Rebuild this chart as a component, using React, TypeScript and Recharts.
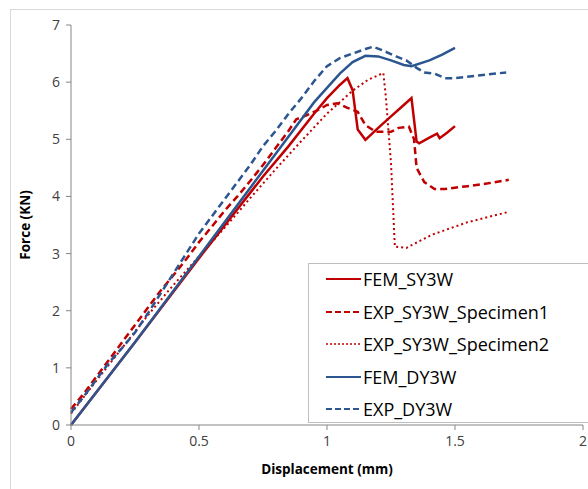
import { LineChart, Line, XAxis, YAxis, Label } from "recharts";

const xTicks = [0, 0.5, 1, 1.5, 2];
const yTicks = [0, 1, 2, 3, 4, 5, 6, 7];

const femSY3W = [
  [0, 0], [0.25, 1.45], [0.5, 2.92], [0.75, 4.35], [0.85, 4.88], [0.95, 5.45],
  [1.0, 5.72], [1.05, 5.95], [1.08, 6.07], [1.1, 5.86], [1.12, 5.17], [1.15, 4.99],
  [1.2, 5.2], [1.25, 5.4], [1.3, 5.6], [1.33, 5.72], [1.35, 4.96], [1.36, 4.93],
  [1.4, 5.03], [1.43, 5.1], [1.44, 5.02], [1.47, 5.12], [1.5, 5.23],
];

const expSY3W1 = [
  [0, 0.28], [0.05, 0.55], [0.1, 0.85], [0.15, 1.15], [0.2, 1.45], [0.25, 1.75],
  [0.3, 2.05], [0.35, 2.35], [0.4, 2.62], [0.45, 2.9], [0.5, 3.2], [0.55, 3.47],
  [0.6, 3.75], [0.65, 4.0], [0.7, 4.27], [0.75, 4.55], [0.8, 4.85], [0.85, 5.15],
  [0.88, 5.35], [0.92, 5.42], [0.96, 5.5], [1.0, 5.6], [1.04, 5.63], [1.08, 5.55],
  [1.12, 5.48], [1.15, 5.25], [1.19, 5.13], [1.25, 5.13], [1.28, 5.2], [1.32, 5.22],
  [1.34, 5.0], [1.35, 4.5], [1.38, 4.25], [1.42, 4.13], [1.46, 4.13], [1.55, 4.18],
  [1.63, 4.23], [1.71, 4.29],
];

const expSY3W2 = [
  [0, 0.2], [0.1, 0.78], [0.2, 1.35], [0.3, 1.92], [0.4, 2.45], [0.5, 2.95],
  [0.6, 3.45], [0.7, 3.97], [0.8, 4.48], [0.9, 4.97], [1.0, 5.45], [1.05, 5.65],
  [1.1, 5.85], [1.16, 6.04], [1.22, 6.16], [1.23, 5.74], [1.25, 4.58], [1.265, 3.12],
  [1.31, 3.1], [1.41, 3.33], [1.55, 3.55], [1.71, 3.73],
];

const femDY3W = [
  [0, 0], [0.25, 1.45], [0.5, 2.95], [0.75, 4.45], [0.85, 5.05], [0.95, 5.65],
  [1.0, 5.9], [1.05, 6.15], [1.1, 6.35], [1.15, 6.46], [1.2, 6.45], [1.25, 6.38],
  [1.3, 6.3], [1.33, 6.28], [1.4, 6.38], [1.45, 6.48], [1.5, 6.6],
];

const expDY3W = [
  [0, 0.22], [0.05, 0.5], [0.1, 0.8], [0.15, 1.1], [0.2, 1.35], [0.25, 1.62],
  [0.3, 1.95], [0.35, 2.3], [0.4, 2.65], [0.45, 3.0], [0.5, 3.35], [0.55, 3.65],
  [0.6, 3.95], [0.65, 4.25], [0.7, 4.55], [0.75, 4.88], [0.8, 5.15], [0.85, 5.45],
  [0.9, 5.72], [0.95, 6.02], [1.0, 6.28], [1.05, 6.42], [1.1, 6.5], [1.15, 6.58],
  [1.18, 6.62], [1.22, 6.55], [1.27, 6.45], [1.31, 6.38], [1.35, 6.25], [1.38, 6.17],
  [1.42, 6.15], [1.46, 6.07], [1.5, 6.07], [1.6, 6.12], [1.7, 6.17],
];

const RED = "#c00000";
const BLUE = "#2b5690";

const toPts = (arr: number[][]) => arr.map(([x, y]) => ({ x, y }));

const series = [
  { name: "FEM_SY3W", data: toPts(femSY3W), color: RED, dash: undefined, width: 2.5 },
  { name: "EXP_SY3W_Specimen1", data: toPts(expSY3W1), color: RED, dash: "7 4", width: 2.5 },
  { name: "EXP_SY3W_Specimen2", data: toPts(expSY3W2), color: RED, dash: "2 3", width: 2 },
  { name: "FEM_DY3W", data: toPts(femDY3W), color: BLUE, dash: undefined, width: 2.5 },
  { name: "EXP_DY3W", data: toPts(expDY3W), color: BLUE, dash: "7 4", width: 2.5 },
];

const font = "'Open Sans', Lato, sans-serif";

const LegendBox = () => (
  <div
    style={{
      position: "absolute",
      left: 308,
      top: 263,
      border: "1px solid #bfbfbf",
      background: "#fff",
      width: 300,
      height: 160,
      boxSizing: "border-box",
      paddingTop: 0,
    }}
  >
    {series.map((s, i) => (
      <div
        key={s.name}
        style={{ position: "absolute", left: 0, top: 15 + i * 32.5 - 14, height: 28, display: "flex", alignItems: "center" }}
      >
        <svg width={53} height={10} style={{ flexShrink: 0 }}>
          <line
            x1={17}
            y1={5}
            x2={52}
            y2={5}
            stroke={s.color}
            strokeWidth={s.dash === "2 3" ? 1.6 : 2}
            strokeDasharray={s.dash ? (s.dash === "2 3" ? "2 2" : "6 3") : undefined}
          />
        </svg>
        <span style={{ fontFamily: font, fontSize: 18, lineHeight: "28px", color: "#000", marginLeft: 1, whiteSpace: "nowrap" }}>{s.name}</span>
      </div>
    ))}
  </div>
);

export default function App() {
  return (
    <div style={{ position: "absolute", left: 0, top: 0, width: 588, height: 489, overflow: "hidden", background: "#fff" }}>
      <div style={{ position: "absolute", left: 10, top: 9, width: 700, height: 600, border: "1px solid #d9d9d9" }} />
      <div style={{ position: "absolute", left: 0, top: 0 }}>
        <LineChart width={588} height={489} margin={{ top: 25, right: 5, bottom: 34, left: 31 }}>
          <XAxis
            type="number"
            dataKey="x"
            domain={[0, 2]}
            ticks={xTicks}
            allowDuplicatedCategory={false}
            stroke="#868686"
            tickSize={5}
            tick={{ fill: "#404040", fontSize: 14, fontFamily: font }}
            tickMargin={6}
            height={30}
          >
            <Label value="Displacement (mm)" position="bottom" offset={9} style={{ fontFamily: font, fontSize: 13.5, fontWeight: 700, fill: "#000" }} />
          </XAxis>
          <YAxis
            type="number"
            dataKey="y"
            domain={[0, 7]}
            ticks={yTicks}
            stroke="#868686"
            tickSize={5}
            tick={{ fill: "#404040", fontSize: 14, fontFamily: font }}
            tickMargin={6}
            width={40}
          >
            <Label value="Force (KN)" angle={-90} position="insideLeft" offset={-6} style={{ fontFamily: font, fontSize: 13.5, fontWeight: 700, fill: "#000", textAnchor: "middle" }} />
          </YAxis>
          {series.map((s) => (
            <Line
              key={s.name}
              name={s.name}
              data={s.data}
              dataKey="y"
              type="linear"
              stroke={s.color}
              strokeWidth={s.width}
              strokeDasharray={s.dash}
              dot={false}
              activeDot={false}
              isAnimationActive={false}
            />
          ))}
        </LineChart>
      </div>
      <LegendBox />
    </div>
  );
}
